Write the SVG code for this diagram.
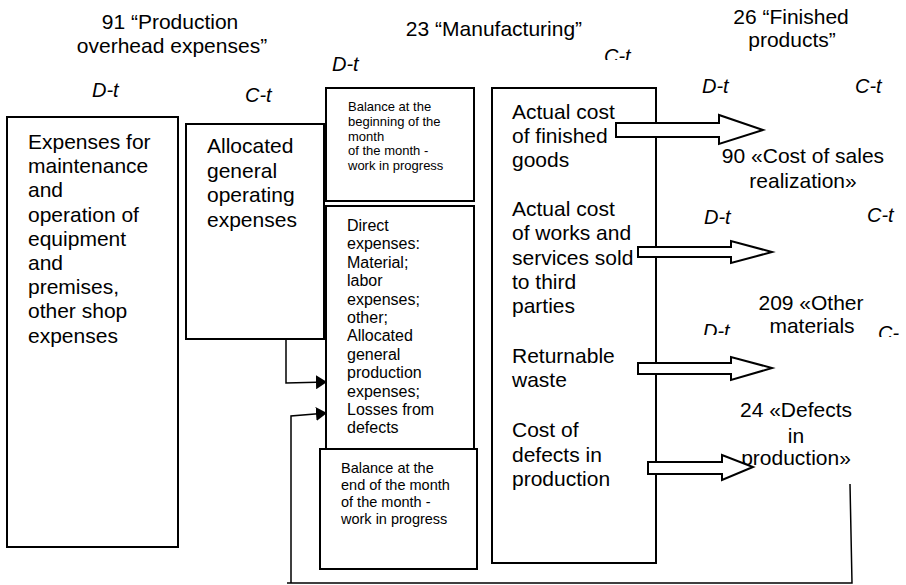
<svg xmlns="http://www.w3.org/2000/svg" width="906" height="585" viewBox="0 0 906 585">
<style>
text{font-family:"Liberation Sans",Arial,sans-serif;fill:#000}
.t21{font-size:21px}
.it{font-size:20px;font-style:italic}
.s13{font-size:13px}
.s14{font-size:14.5px}
.s16{font-size:16px}
.box{fill:#fff;stroke:#000;stroke-width:2}
.blk{fill:#fff;stroke:#000;stroke-width:2;stroke-linejoin:miter}
.ln{fill:none;stroke:#000;stroke-width:1.5}
.mid{text-anchor:middle}
</style>
<defs>
<marker id="ah" viewBox="0 0 11 14" refX="11" refY="7" markerWidth="11" markerHeight="14" markerUnits="userSpaceOnUse" orient="auto">
<path d="M0,0 L11,7 L0,14 Z" fill="#000"/>
</marker>
<clipPath id="c1"><rect x="0" y="0" width="906" height="60"/></clipPath>
<clipPath id="c2"><rect x="0" y="0" width="906" height="335"/></clipPath>
<clipPath id="c3"><rect x="0" y="0" width="899" height="337"/></clipPath>
</defs>

<g id="titles">
<text class="t21 mid" x="170" y="29">91 “Production</text>
<text class="t21 mid" x="172" y="53">overhead expenses”</text>
<text class="t21 mid" x="494" y="36">23 “Manufacturing”</text>
<text class="t21 mid" x="791" y="24">26 “Finished</text>
<text class="t21 mid" x="792" y="47">products”</text>
<text class="it" x="92" y="97">D-t</text>
<text class="it" x="245" y="102">C-t</text>
<text class="it" x="332" y="71">D-t</text>
<text class="it" x="604" y="63" clip-path="url(#c1)">C-t</text>
<text class="it" x="702" y="93">D-t</text>
<text class="it" x="855" y="93">C-t</text>
</g>

<g id="acc90">
<text class="t21 mid" x="803" y="163">90 «Cost of sales</text>
<text class="t21 mid" x="803" y="188">realization»</text>
<text class="it" x="704" y="224">D-t</text>
<text class="it" x="867" y="222">C-t</text>
</g>

<g id="acc209">
<text class="t21 mid" x="811" y="310">209 «Other</text>
<text class="t21 mid" x="812" y="333">materials</text>
<text class="it" x="703" y="338" clip-path="url(#c2)">D-t</text>
<text class="it" x="878" y="340" clip-path="url(#c3)">C-t</text>
</g>

<g id="acc24">
<text class="t21 mid" x="796" y="417">24 «Defects</text>
<text class="t21 mid" x="796" y="443">in</text>
<text class="t21 mid" x="796" y="465">production»</text>
</g>

<g id="n91debit">
<rect class="box" x="7" y="117" width="171" height="430"/>
<text class="t21" x="28">
<tspan x="28" y="149">Expenses for</tspan>
<tspan x="28" y="173.2">maintenance</tspan>
<tspan x="28" y="197.4">and</tspan>
<tspan x="28" y="221.6">operation of</tspan>
<tspan x="28" y="245.8">equipment</tspan>
<tspan x="28" y="270">and</tspan>
<tspan x="28" y="294.2">premises,</tspan>
<tspan x="28" y="318.4">other shop</tspan>
<tspan x="28" y="342.6">expenses</tspan>
</text>
</g>

<g id="n91credit">
<rect class="box" x="186" y="124" width="138" height="215"/>
<text class="t21">
<tspan x="207" y="153">Allocated</tspan>
<tspan x="207" y="177.5">general</tspan>
<tspan x="207" y="202">operating</tspan>
<tspan x="207" y="226.5">expenses</tspan>
</text>
</g>

<g id="n23begin">
<rect class="box" x="326" y="88" width="148" height="113"/>
<text class="s13">
<tspan x="348" y="111">Balance at the</tspan>
<tspan x="348" y="125.8">beginning of the</tspan>
<tspan x="348" y="140.6">month</tspan>
<tspan x="348" y="155.4">of the month -</tspan>
<tspan x="348" y="170.2">work in progress</tspan>
</text>
</g>

<g id="n23direct">
<rect class="box" x="326" y="206" width="148" height="244"/>
<text class="s16">
<tspan x="347" y="231">Direct</tspan>
<tspan x="347" y="249.4">expenses:</tspan>
<tspan x="347" y="267.8">Material;</tspan>
<tspan x="347" y="286.2">labor</tspan>
<tspan x="347" y="304.6">expenses;</tspan>
<tspan x="347" y="323">other;</tspan>
<tspan x="347" y="341.4">Allocated</tspan>
<tspan x="347" y="359.8">general</tspan>
<tspan x="347" y="378.2">production</tspan>
<tspan x="347" y="396.6">expenses;</tspan>
<tspan x="347" y="415">Losses from</tspan>
<tspan x="347" y="433.4">defects</tspan>
</text>
</g>

<g id="n23end">
<rect class="box" x="320" y="449" width="157" height="120"/>
<text class="s14">
<tspan x="341" y="473">Balance at the</tspan>
<tspan x="341" y="490">end of the month</tspan>
<tspan x="341" y="507">of the month -</tspan>
<tspan x="341" y="524">work in progress</tspan>
</text>
</g>

<g id="n23credit">
<rect class="box" x="492" y="88" width="164" height="475"/>
<text class="t21">
<tspan x="512" y="119">Actual cost</tspan>
<tspan x="512" y="143">of finished</tspan>
<tspan x="512" y="167">goods</tspan>
<tspan x="512" y="216">Actual cost</tspan>
<tspan x="512" y="240.3">of works and</tspan>
<tspan x="512" y="264.6">services sold</tspan>
<tspan x="512" y="288.9">to third</tspan>
<tspan x="512" y="313.2">parties</tspan>
<tspan x="512" y="363">Returnable</tspan>
<tspan x="512" y="387">waste</tspan>
<tspan x="512" y="437">Cost of</tspan>
<tspan x="512" y="461.5">defects in</tspan>
<tspan x="512" y="486">production</tspan>
</text>
</g>

<g id="connectors">
<polyline class="ln" points="286,339 286,383 327,382" marker-end="url(#ah)"/>
<polyline class="ln" points="850,484 852,583 287,583"/>
<polyline class="ln" points="291,583 291,416 327,413" marker-end="url(#ah)"/>
<polygon class="blk" points="616,123 719,123 719,115 763,130 719,144 719,137 616,137"/>
<polygon class="blk" points="638,247 731,247 731,241 772,252 731,263 731,257 638,257"/>
<polygon class="blk" points="638,363 731,363 731,357 772,368 731,380 731,374 638,374"/>
<polygon class="blk" points="648,462 722,462 722,455 753,467 722,480 722,474 648,474"/>
</g>
</svg>
